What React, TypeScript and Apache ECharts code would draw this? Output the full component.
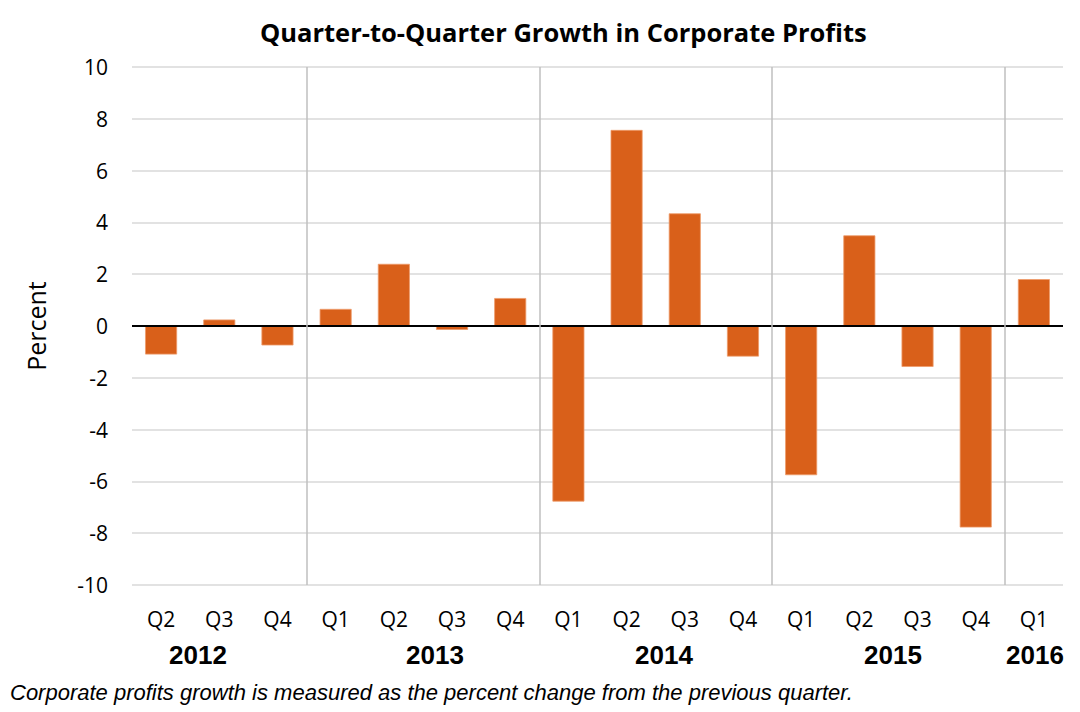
import React, { useEffect, useRef } from "react";
import * as echarts from "echarts";

const quarters = ["Q2", "Q3", "Q4", "Q1", "Q2", "Q3", "Q4", "Q1", "Q2", "Q3", "Q4", "Q1", "Q2", "Q3", "Q4", "Q1"];
const growth = [-1.1, 0.25, -0.75, 0.66, 2.4, -0.15, 1.08, -6.78, 7.57, 4.35, -1.18, -5.76, 3.5, -1.58, -7.78, 1.81];
const yearBoundaries = [3, 7, 11, 15];
const years = ["2012", "2013", "2014", "2015", "2016"];
const yearLabelX = [198, 435, 664, 893, 1035];
const yTicks = [-10, 10, 2];

export default function App() {
  const ref = useRef<HTMLDivElement>(null);
  useEffect(() => {
    if (!ref.current) return;
    const chart = echarts.init(ref.current, null, { renderer: "svg" });
    const font = "'Open Sans', Lato, sans-serif";
    const arial = "'Liberation Sans', Arial, sans-serif";
    chart.setOption({
      animation: false,
      backgroundColor: "#ffffff",
      title: {
        text: "Quarter-to-Quarter Growth in Corporate Profits",
        left: 255,
        top: 14,
        textStyle: { fontFamily: font, fontWeight: "bold", fontSize: 25.5, color: "#000" },
      },
      grid: { left: 132, right: 17, top: 67, bottom: 127 },
      xAxis: [
        {
          type: "category",
          data: quarters,
          position: "bottom",
          axisLine: { show: false, onZero: false },
          axisTick: { show: false },
          axisLabel: { fontFamily: font, fontSize: 21, color: "#000", margin: 23 },
          splitLine: { show: false },
        },
        {
          type: "value",
          min: 0,
          max: quarters.length,
          show: false,
        },
      ],
      yAxis: {
        type: "value",
        min: yTicks[0],
        max: yTicks[1],
        interval: yTicks[2],
        name: "Percent",
        nameLocation: "middle",
        nameGap: 84,
        nameTextStyle: { fontFamily: font, fontSize: 25, color: "#000" },
        axisLine: { show: false },
        axisTick: { show: false },
        axisLabel: { fontFamily: font, fontSize: 21, color: "#000", margin: 24 },
        splitLine: { lineStyle: { color: "#d9d9d9", width: 1.5 } },
      },
      series: [
        {
          type: "bar",
          data: growth,
          barWidth: "55%",
          itemStyle: { color: "#D9601A", borderColor: "#EE9A6A", borderWidth: 0.8 },
          markLine: {
            silent: true,
            symbol: "none",
            label: { show: false },
            lineStyle: { color: "#000", width: 1.8, type: "solid" },
            data: [{ yAxis: 0 }],
          },
        },
        {
          type: "scatter",
          xAxisIndex: 1,
          data: [],
          markLine: {
            silent: true,
            symbol: "none",
            label: { show: false },
            lineStyle: { color: "#bfbfbf", width: 1.5, type: "solid" },
            data: yearBoundaries.map((b) => ({ xAxis: b })),
          },
        },
      ],
      graphic: [
        ...years.map((y, i) => ({
          type: "text",
          x: yearLabelX[i],
          y: 655,
          style: {
            text: y,
            fontFamily: arial,
            fontWeight: "bold",
            fontSize: 26,
            fill: "#000",
            textAlign: "center",
            textVerticalAlign: "middle",
          },
        })),
        {
          type: "text",
          x: 10,
          y: 692,
          style: {
            text: "Corporate profits growth is measured as the percent change from the previous quarter.",
            fontFamily: arial,
            fontStyle: "italic",
            fontSize: 22,
            fill: "#000",
            textAlign: "left",
            textVerticalAlign: "middle",
          },
        },
      ],
    });
    return () => chart.dispose();
  }, []);
  return <div ref={ref} style={{ width: 1080, height: 712, position: "absolute", left: 0, top: 0 }} />;
}
